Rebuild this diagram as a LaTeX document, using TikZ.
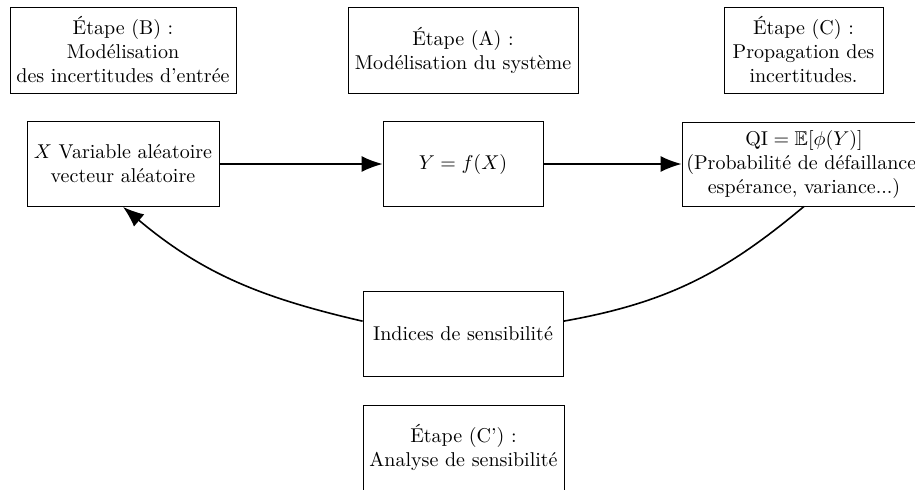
\documentclass[tikz,border=0pt]{standalone}
\usepackage{amssymb}
\usepackage{fontspec}
\usetikzlibrary{arrows.meta}

\tikzset{
  box/.style={draw, line width=0.4pt, align=center, inner sep=2pt},
  conn/.style={line width=0.8pt, -{Latex[length=10.5pt,width=8pt]}},
  link/.style={line width=0.8pt}
}

\begin{document}
\begin{tikzpicture}[x=0.5pt,y=0.5pt]
  \useasboundingbox (0,0) rectangle (915,-489);
  \clip (0,0) rectangle (915,-489);

  % step headings
  \node[box, minimum width=113pt, minimum height=43pt] (stepB) at (123,-50)
    {Étape (B) :\\Modélisation\\des incertitudes d'entrée};
  \node[box, minimum width=115pt, minimum height=43pt] (stepA) at (463,-50)
    {Étape (A) :\\Modélisation du système};
  \node[box, minimum width=79.5pt, minimum height=43pt] (stepC) at (803.5,-50)
    {Étape (C) :\\Propagation des\\incertitudes.};

  % main chain
  \node[box, minimum width=96pt, minimum height=42.5pt] (input) at (123,-164)
    {$X$ Variable aléatoire\\vecteur aléatoire};
  \node[box, minimum width=80pt, minimum height=42.5pt] (model) at (463,-164)
    {$Y = f(X)$};
  \node[box, minimum width=122pt, minimum height=42pt] (qoi) at (804,-164)
    {$\mathrm{QI} = \mathbb{E}[\phi(Y)]$\\(Probabilité de défaillance,\\espérance, variance...)};

  % sensitivity
  \node[box, minimum width=100pt, minimum height=42.5pt] (sens) at (463,-333.5)
    {Indices de sensibilité};
  \node[box, minimum width=100.5pt, minimum height=42.5pt] (stepCp) at (463.5,-447.5)
    {Étape (C') :\\Analyse de sensibilité};

  % connectors
  \draw[conn] (input) -- (model);
  \draw[conn] (model) -- (qoi);
  \draw[link] (qoi.south) to[out=-140, in=10] (sens.7);
  \draw[conn] (sens.173) to[out=167, in=-40] (input.south);
\end{tikzpicture}
\end{document}
